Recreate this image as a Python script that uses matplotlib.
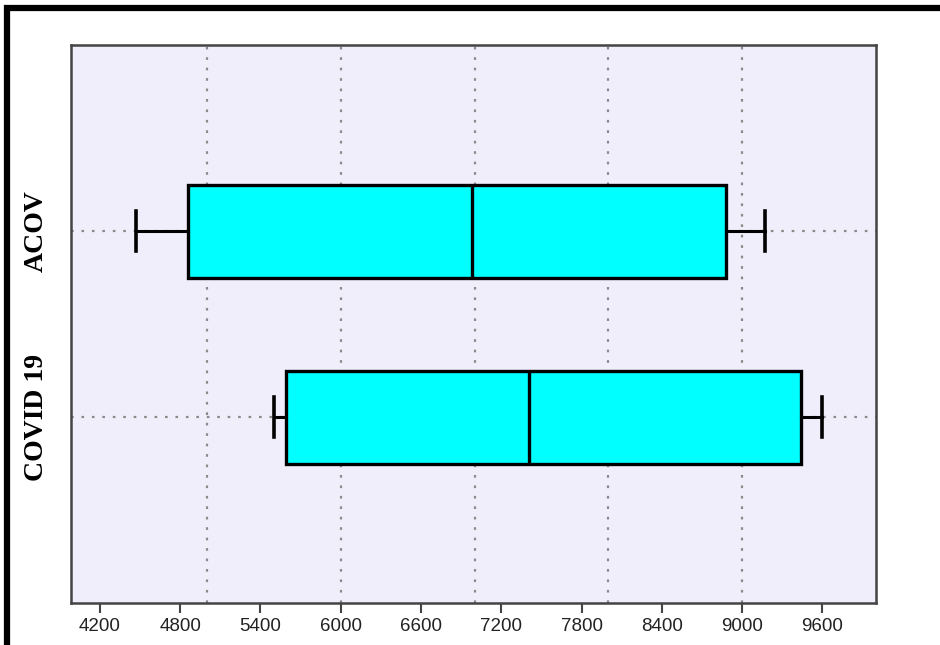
import matplotlib
matplotlib.use("Agg")
import matplotlib.pyplot as plt
from matplotlib.patches import Rectangle

# Box statistics (whisker low, Q1, median, Q3, whisker high)
groups = ["COVID 19", "ACOV"]
whislo = [5500, 4470]
q1 = [5590, 4860]
med = [7410, 6980]
q3 = [9440, 8880]
whishi = [9600, 9170]

xticks = list(range(4200, 9601, 600))
grid_x = [5000, 6000, 7000, 8000, 9000]

stats = [
    {"label": g, "whislo": lo, "q1": a, "med": m, "q3": b, "whishi": hi, "fliers": []}
    for g, lo, a, m, b, hi in zip(groups, whislo, q1, med, q3, whishi)
]

fig = plt.figure(figsize=(9.4, 6.45), dpi=100)
ax = fig.add_axes([71 / 940, 42 / 645, 805 / 940, 558 / 645])
ax.set_facecolor("#f0eefb")

dot = (0, (1.2, 3.5))
ax.xaxis.remove_overlapping_locs = False
ax.set_xticks(grid_x, minor=True)
ax.grid(True, which="minor", axis="x", color="#8a8a8a", linestyle=dot, linewidth=1.6)
ax.grid(True, which="major", axis="y", color="#8a8a8a", linestyle=dot, linewidth=1.6)
ax.set_axisbelow(True)

ax.bxp(
    stats,
    positions=[1, 2],
    vert=False,
    widths=0.5,
    capwidths=0.21,
    patch_artist=True,
    showfliers=False,
    boxprops=dict(facecolor="#00ffff", edgecolor="black", linewidth=2.4),
    medianprops=dict(color="black", linewidth=2.4),
    whiskerprops=dict(color="black", linewidth=2.2),
    capprops=dict(color="black", linewidth=2.6),
)

ax.set_xlim(3985, 10000)
ax.set_ylim(0, 3)
ax.set_xticks(xticks)
ax.set_xticklabels([str(t) for t in xticks], fontsize=13.5, family="Liberation Sans", color="#222222")
ax.set_yticks([1, 2])
ax.set_yticklabels(groups, rotation=90, va="center", fontsize=20,
                   fontweight="bold", family="Liberation Serif")
ax.tick_params(axis="y", length=0, pad=16)
ax.tick_params(axis="x", which="major", length=7, width=1.5, color="#444444", pad=4)
ax.tick_params(axis="x", which="minor", length=0)
for s in ax.spines.values():
    s.set_color("#444444")
    s.set_linewidth(1.8)

# thick black frame around the figure (only top and left visible in the crop)
fig.patches.append(Rectangle((7 / 940, -0.2), 1.2, 1.2 - 8 / 645, transform=fig.transFigure,
                             fill=False, edgecolor="black", linewidth=4.5, clip_on=False))

fig.savefig("out.png", dpi=100)
